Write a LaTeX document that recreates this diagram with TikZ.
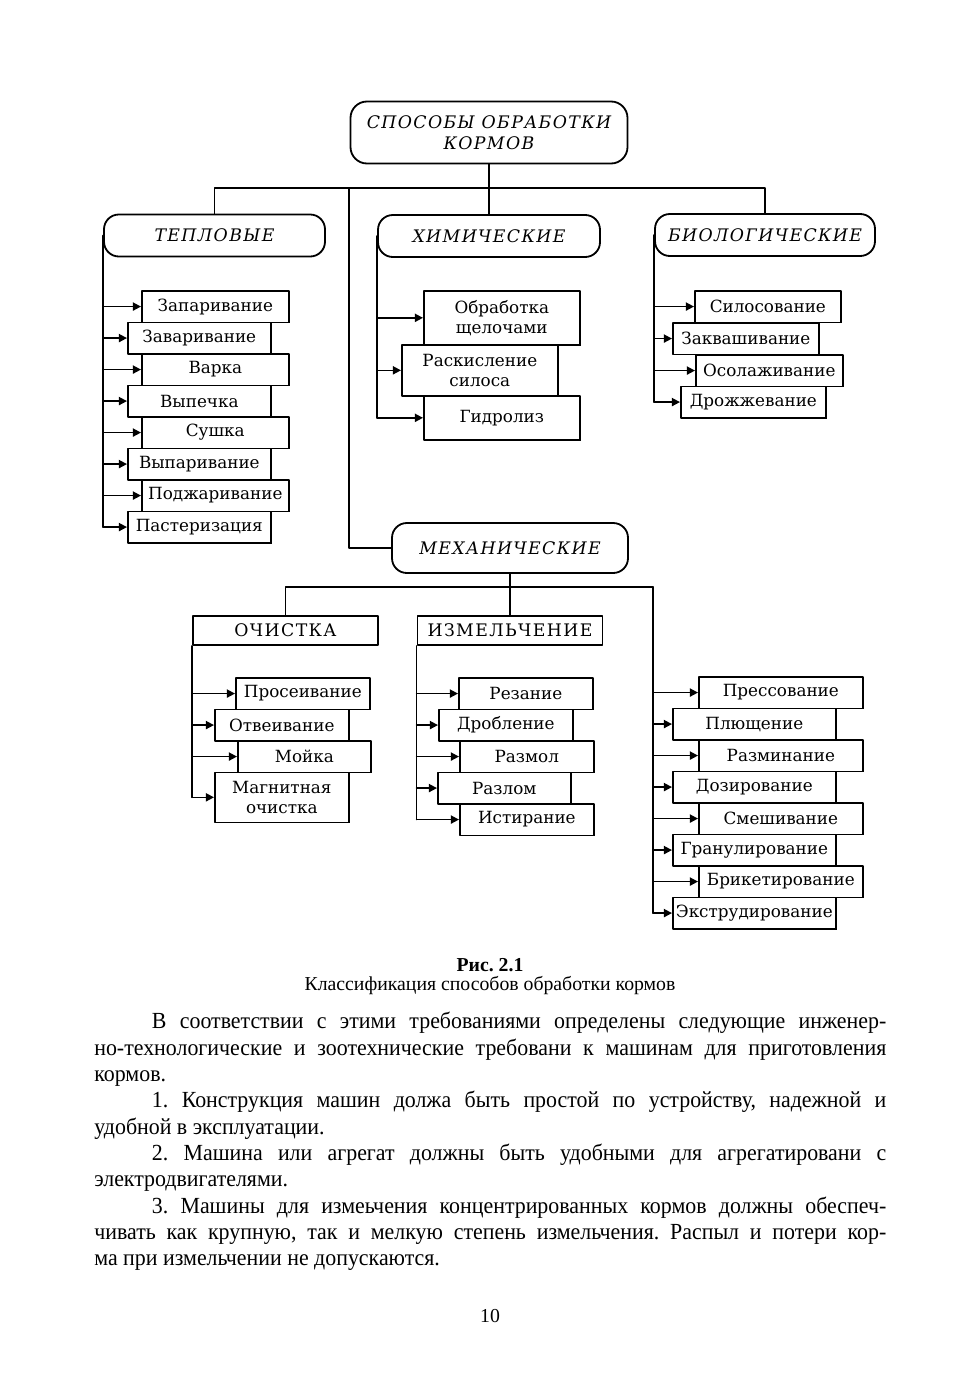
\documentclass[tikz,border=0pt]{standalone}
\usepackage{fontspec}
\setmainfont[FakeStretch=0.95]{Liberation Serif}
\newfontfamily\capfont{Liberation Serif}
\newfontfamily\schfont{DejaVu Serif}
\newfontfamily\spacedfont[LetterSpace=8]{DejaVu Serif}
\usetikzlibrary{arrows.meta,shadows}
\def\pxu{0.6074pt}
\frenchspacing
\tolerance=9999

\begin{document}
\begin{tikzpicture}[
    x=0.6074pt, y=-0.6074pt,
    line cap=round,
    line join=round,
    >={Triangle[length=5pt,width=5pt]},
    head/.style={draw, line width=1.1pt, rounded corners=9pt, align=center, inner sep=2pt,
                 font=\spacedfont\itshape\fontsize{10.5}{13}\selectfont, minimum height=42*\pxu},
    sub/.style={draw, line width=1.1pt, font=\spacedfont\fontsize{10.5}{12}\selectfont,
                minimum width=185*\pxu, minimum height=29*\pxu},
    item/.style={draw, fill=white, line width=1pt, anchor=north west, align=center, inner sep=1pt,
                 font=\schfont\fontsize{10.2}{12.3}\selectfont, minimum height=31.5*\pxu,
                 drop shadow={fill=black, opacity=1, shadow xshift=0.6pt, shadow yshift=-0.6pt}},
    link/.style={line width=1pt},
    arr/.style={->, line width=1pt},
    para/.style={anchor=north west, inner sep=0pt, align=justify, text width=792*\pxu,
                 font=\fontsize{14}{16}\selectfont}
]
\path[use as bounding box, fill=white] (0,0) rectangle (980,1386);

% ------------------------
% Root and first level
% ------------------------
\node[head, minimum width=277*\pxu, minimum height=62*\pxu, rounded corners=10pt] (top) at (489,132.5)
     {СПОСОБЫ ОБРАБОТКИ\\КОРМОВ};
\node[head, minimum width=221*\pxu] (teplo) at (214.5,235.5) {ТЕПЛОВЫЕ};
\node[head, minimum width=222*\pxu] (him) at (489,236) {ХИМИЧЕСКИЕ};
\node[head, minimum width=220*\pxu] (bio) at (765,235) {БИОЛОГИЧЕСКИЕ};
\node[head, minimum width=236*\pxu, minimum height=50*\pxu] (mex) at (510,548) {МЕХАНИЧЕСКИЕ};

\coordinate (bus) at (489,188);
\coordinate (mexfork) at (349,188);
\draw[link] (top.south) -- (him.north);
\draw[link] (teplo.north) |- (bus) -| (bio.north);
\draw[link] (mexfork) |- (mex.west);

% ------------------------
% Thermal methods
% ------------------------
\node[item, minimum width=147*\pxu] (t1) at (141,290) {Запаривание};
\node[item, minimum width=143*\pxu] (t2) at (127,321.5) {Заваривание};
\node[item, minimum width=147*\pxu] (t3) at (141,353) {Варка};
\node[item, minimum width=143*\pxu] (t4) at (127,384.5) {Выпечка};
\node[item, minimum width=147*\pxu] (t5) at (141,416) {Сушка};
\node[item, minimum width=143*\pxu] (t6) at (127,447.5) {Выпаривание};
\node[item, minimum width=147*\pxu] (t7) at (141,479) {Поджаривание};
\node[item, minimum width=143*\pxu] (t8) at (127,510.5) {Пастеризация};

\draw[link] (teplo.west) -- (teplo.west |- t8.west);
\draw[arr] (teplo.west |- t1.west) -- (t1.west);
\draw[arr] (teplo.west |- t2.west) -- (t2.west);
\draw[arr] (teplo.west |- t3.west) -- (t3.west);
\draw[arr] (teplo.west |- t4.west) -- (t4.west);
\draw[arr] (teplo.west |- t5.west) -- (t5.west);
\draw[arr] (teplo.west |- t6.west) -- (t6.west);
\draw[arr] (teplo.west |- t7.west) -- (t7.west);
\draw[arr] (teplo.west |- t8.west) -- (t8.west);

% ------------------------
% Chemical methods
% ------------------------
\node[item, minimum width=156*\pxu, minimum height=54*\pxu] (h1) at (423,290) {Обработка\\щелочами};
\node[item, minimum width=156*\pxu, minimum height=51*\pxu] (h2) at (401,344) {Раскисление\\силоса};
\node[item, minimum width=156*\pxu, minimum height=44*\pxu] (h3) at (423,395) {Гидролиз};

\draw[link] (him.west) -- (him.west |- h3.west);
\draw[arr] (him.west |- h1.west) -- (h1.west);
\draw[arr] (him.west |- h2.west) -- (h2.west);
\draw[arr] (him.west |- h3.west) -- (h3.west);

% ------------------------
% Biological methods
% ------------------------
\node[item, minimum width=146*\pxu] (b1) at (694,290) {Силосование};
\node[item, minimum width=146*\pxu] (b2) at (672,322) {Заквашивание};
\node[item, minimum width=147*\pxu] (b3) at (695,354) {Осолаживание};
\node[item, minimum width=145*\pxu] (b4) at (680,385.5) {Дрожжевание};

\draw[link] (bio.west) -- (bio.west |- b4.west);
\draw[arr] (bio.west |- b1.west) -- (b1.west);
\draw[arr] (bio.west |- b2.west) -- (b2.west);
\draw[arr] (bio.west |- b3.west) -- (b3.west);
\draw[arr] (bio.west |- b4.west) -- (b4.west);

% ------------------------
% Mechanical methods
% ------------------------
\node[sub] (ochi) at (285.5,630.5) {ОЧИСТКА};
\node[sub] (izm) at (510,630.5) {ИЗМЕЛЬЧЕНИЕ};

\coordinate (mbus) at (653,587);
\draw[link] (mex.south) -- (izm.north);
\draw[link] (ochi.north) |- (mbus);

% cleaning
\node[item, minimum width=134*\pxu] (o1) at (235,677) {Просеивание};
\node[item, minimum width=134*\pxu] (o2) at (214,708.5) {Отвеивание};
\node[item, minimum width=133*\pxu] (o3) at (237,740) {Мойка};
\node[item, minimum width=134*\pxu, minimum height=50*\pxu] (o4) at (214,771.5) {Магнитная\\очистка};

\draw[link] (ochi.south west) -- (ochi.south west |- o4.west);
\draw[arr] (ochi.south west |- o1.west) -- (o1.west);
\draw[arr] (ochi.south west |- o2.west) -- (o2.west);
\draw[arr] (ochi.south west |- o3.west) -- (o3.west);
\draw[arr] (ochi.south west |- o4.west) -- (o4.west);

% grinding
\node[item, minimum width=134*\pxu] (i1) at (458,677) {Резание};
\node[item, minimum width=134*\pxu] (i2) at (438,708.5) {Дробление};
\node[item, minimum width=134*\pxu] (i3) at (459,740) {Размол};
\node[item, minimum width=133*\pxu] (i4) at (437,771.5) {Разлом};
\node[item, minimum width=134*\pxu] (i5) at (459,803) {Истирание};

\draw[link] (izm.south west) -- (izm.south west |- i5.west);
\draw[arr] (izm.south west |- i1.west) -- (i1.west);
\draw[arr] (izm.south west |- i2.west) -- (i2.west);
\draw[arr] (izm.south west |- i3.west) -- (i3.west);
\draw[arr] (izm.south west |- i4.west) -- (i4.west);
\draw[arr] (izm.south west |- i5.west) -- (i5.west);

% other mechanical
\node[item, minimum width=164*\pxu] (p1) at (698,676) {Прессование};
\node[item, minimum width=163*\pxu] (p2) at (672,707.5) {Плющение};
\node[item, minimum width=164*\pxu] (p3) at (698,739) {Разминание};
\node[item, minimum width=163*\pxu] (p4) at (672,770.5) {Дозирование};
\node[item, minimum width=164*\pxu] (p5) at (698,802) {Смешивание};
\node[item, minimum width=163*\pxu] (p6) at (672,833.5) {Гранулирование};
\node[item, minimum width=164*\pxu] (p7) at (698,865) {Брикетирование};
\node[item, minimum width=163*\pxu] (p8) at (672,896.5) {Экструдирование};

\draw[link] (mbus) -- (mbus |- p8.west);
\draw[arr] (mbus |- p1.west) -- (p1.west);
\draw[arr] (mbus |- p2.west) -- (p2.west);
\draw[arr] (mbus |- p3.west) -- (p3.west);
\draw[arr] (mbus |- p4.west) -- (p4.west);
\draw[arr] (mbus |- p5.west) -- (p5.west);
\draw[arr] (mbus |- p6.west) -- (p6.west);
\draw[arr] (mbus |- p7.west) -- (p7.west);
\draw[arr] (mbus |- p8.west) -- (p8.west);

% ------------------------
% Caption, text, page number
% ------------------------
\node[font=\capfont\bfseries\fontsize{12}{14}\selectfont] (fignum) at (490,965) {Рис. 2.1};
\node[font=\capfont\fontsize{12}{14}\selectfont] (figcap) at (490,986) {Классификация способов обработки кормов};

\node[para] (text) at (94,1012) {%
\hspace*{35pt}В соответствии с этими требованиями определены следующие инженер-\linebreak
но-технологические и зоотехнические требовани к машинам для приготовления\linebreak
кормов.\par
\hspace*{35pt}1. Конструкция машин должа быть простой по устройству, надежной и\linebreak
удобной в эксплуатации.\par
\hspace*{35pt}2. Машина или агрегат должны быть удобными для агрегатировани с\linebreak
электродвигателями.\par
\hspace*{35pt}3. Машины для измеьчения концентрированных кормов должны обеспеч-\linebreak
чивать как крупную, так и мелкую степень измельчения. Распыл и потери кор-\linebreak
ма при измельчении не допускаются.};

\node[font=\capfont\fontsize{12}{14}\selectfont] (pagenum) at (490,1316) {10};
\end{tikzpicture}
\end{document}
